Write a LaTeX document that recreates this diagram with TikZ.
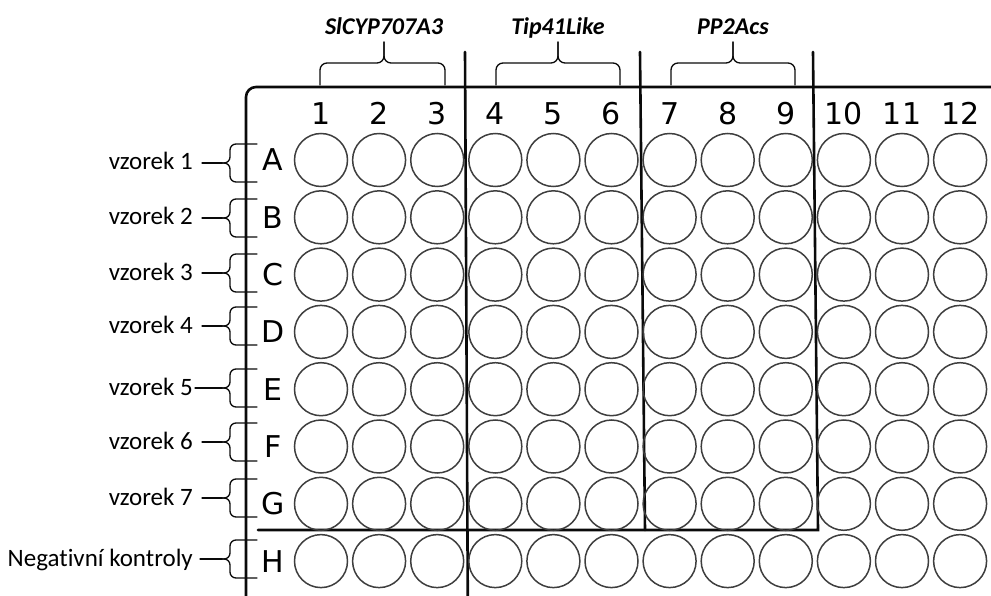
\documentclass[tikz,border=0pt]{standalone}
\usepackage{fontspec}
\setmainfont{Carlito}[Ligatures=NoCommon]
\newfontfamily\platefont{DejaVu Sans}
\usepackage{tikz}
\usetikzlibrary{positioning}
\definecolor{wellgray}{RGB}{62,62,62}
\definecolor{plateblack}{RGB}{10,10,10}

\begin{document}
\begin{tikzpicture}[x=1pt,y=-1pt,line cap=round,
  every node/.style={font=\fontsize{25}{29}\selectfont},
  well/.style={draw=wellgray,line width=1.5pt,circle,
   minimum size=53pt,inner sep=0pt},
  platelab/.style={font=\platefont\fontsize{30}{33}\selectfont,
   inner sep=0pt,anchor=base},
  divider/.style={line width=2.6pt,draw=plateblack},
  bracket/.style={line width=1.3pt,draw=plateblack,rounded corners=7pt}]
 \useasboundingbox (0,0) rectangle (991,596);
 \clip (0,0) rectangle (991,596);
 % plate outline and group dividers
 \draw[divider,rounded corners=10pt] (246,640) -- (246,87) -- (1020,87);
 \draw[divider] (465,52) -- (468,640);
 \draw[divider] (640,52) -- (645,530);
 \draw[divider] (813,52) -- (818,530) -- (258,530);
 % wells, row letters and column numbers
 \foreach \r [count=\i from 0] in {A,B,C,D,E,F,G,H} {
  \node[platelab] (row\r) at (273,{171+57.3*\i}) {\r};
  \foreach \c in {1,...,12}
   \node[well] (\r\c) at ({321+58.1*(\c-1)},{160+57.3*\i}) {};
 }
 \foreach \c in {1,...,12}
  \node[platelab] (col\c) at ({321+58.1*(\c-1)},125) {\c};
 % genes above the plate
 \foreach \a/\b/\m/\g/\name in {320/445/384/SlCYP707A3/gA,
   496/620/558/Tip41Like/gB,671/795/733/PP2Acs/gC} {
  \node[font=\bfseries\itshape\fontsize{24}{28}\selectfont,
   anchor=base,inner sep=0pt] (\name) at (\m,35) {\g};
  \coordinate (\name tip) at (\m,42);
  \draw[bracket] (\a,85) -- (\a,63) -- (\m,63) -- (\name tip);
  \draw[bracket] (\b,85) -- (\b,63) -- (\m,63) -- (\name tip);
 }
 % samples on the left
 \foreach \y/\t/\gap/\name in {163/vzorek 1/9/s1,218/vzorek 2/9/s2,
   273/vzorek 3/9/s3,326/vzorek 4/9/s4,388/vzorek 5/2/s5,
   442/vzorek 6/9/s6,498/vzorek 7/9/s7,559/Negativní kontroly/7/neg} {
  \node[anchor=base east,inner sep=0pt] (\name) at (193,\y+7) {\t};
  \coordinate (\name tip) at (222,\y);
  \draw[bracket,rounded corners=6pt] (257,\y-19) -- (230,\y-19)
   -- (230,\y) -- (\name tip);
  \draw[bracket,rounded corners=6pt] (257,\y+19) -- (230,\y+19)
   -- (230,\y) -- (\name tip);
  \draw[line width=1.3pt,plateblack,shorten <=\gap pt]
   (\name.east |- \name tip) -- (\name tip);
 }
\end{tikzpicture}
\end{document}
